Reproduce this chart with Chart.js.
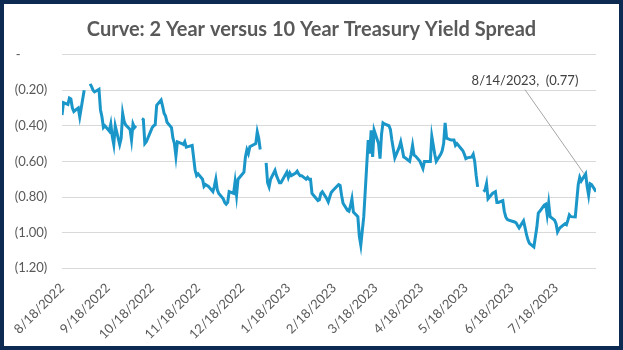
<!DOCTYPE html>
<html>
<head>
<meta charset="utf-8">
<script src="https://cdn.jsdelivr.net/npm/chart.js@4.4.1/dist/chart.umd.min.js"></script>
<style>
  html, body { margin: 0; padding: 0; background: #fff; }
  #frame { position: absolute; left: 0; top: 0; width: 623px; height: 350px; box-sizing: border-box; border: 4px solid #0d2b52; background: #fff; }
  #spread { display: block; }
</style>
</head>
<body>
<div id="frame"><canvas id="spread" width="615" height="342"></canvas></div>
<script>
// 2y/10y treasury spread, business days (null = blank row, shows as a gap)
const dates = [
  '8/18/2022','8/19/2022','8/22/2022','8/23/2022','8/24/2022','8/25/2022','8/26/2022','8/29/2022','8/30/2022','8/31/2022',
  '9/1/2022','9/2/2022','9/5/2022','9/6/2022','9/7/2022','9/8/2022','9/9/2022','9/12/2022','9/13/2022','9/14/2022','9/15/2022','9/16/2022',
  '9/19/2022','9/20/2022','9/21/2022','9/22/2022','9/23/2022','9/26/2022','9/27/2022','9/28/2022','9/29/2022','9/30/2022',
  '10/3/2022','10/4/2022','10/5/2022','10/6/2022','10/7/2022','10/10/2022','10/11/2022','10/12/2022','10/13/2022','10/14/2022',
  '10/17/2022','10/18/2022','10/19/2022','10/20/2022','10/21/2022','10/24/2022','10/25/2022','10/26/2022','10/27/2022','10/28/2022','10/31/2022',
  '11/1/2022','11/2/2022','11/3/2022','11/4/2022','11/7/2022','11/8/2022','11/9/2022','11/10/2022','11/14/2022','11/15/2022',
  '11/16/2022','11/17/2022','11/18/2022','11/21/2022','11/22/2022','11/23/2022','11/25/2022','11/28/2022','11/29/2022','11/30/2022',
  '12/1/2022','12/2/2022','12/5/2022','12/6/2022','12/7/2022','12/8/2022','12/9/2022','12/12/2022','12/13/2022','12/14/2022','12/15/2022',
  '12/16/2022','12/19/2022','12/20/2022','12/21/2022','12/22/2022','12/23/2022','12/27/2022','12/28/2022','12/29/2022','12/30/2022',
  '1/2/2023','1/3/2023','1/4/2023','1/5/2023','1/6/2023','1/9/2023','1/10/2023','1/11/2023','1/12/2023','1/13/2023',
  '1/17/2023','1/18/2023','1/19/2023','1/20/2023','1/23/2023','1/24/2023','1/25/2023','1/26/2023','1/27/2023','1/30/2023','1/31/2023',
  '2/1/2023','2/2/2023','2/3/2023','2/6/2023','2/7/2023','2/8/2023','2/9/2023','2/10/2023','2/13/2023','2/14/2023',
  '2/15/2023','2/16/2023','2/17/2023','2/21/2023','2/22/2023','2/23/2023','2/24/2023','2/27/2023','2/28/2023',
  '3/1/2023','3/2/2023','3/3/2023','3/6/2023','3/7/2023','3/8/2023','3/9/2023','3/10/2023','3/13/2023','3/14/2023','3/15/2023','3/16/2023',
  '3/17/2023','3/20/2023','3/21/2023','3/22/2023','3/23/2023','3/24/2023','3/27/2023','3/28/2023','3/29/2023','3/30/2023','3/31/2023',
  '4/3/2023','4/4/2023','4/5/2023','4/6/2023','4/7/2023','4/10/2023','4/11/2023','4/12/2023','4/13/2023','4/14/2023',
  '4/17/2023','4/18/2023','4/19/2023','4/20/2023','4/21/2023','4/24/2023','4/25/2023','4/26/2023','4/27/2023','4/28/2023',
  '5/1/2023','5/2/2023','5/3/2023','5/4/2023','5/5/2023','5/8/2023','5/9/2023','5/10/2023','5/11/2023','5/12/2023','5/15/2023','5/16/2023',
  '5/17/2023','5/18/2023','5/19/2023','5/22/2023','5/23/2023','5/24/2023','5/25/2023','5/26/2023','5/29/2023','5/30/2023','5/31/2023',
  '6/1/2023','6/2/2023','6/5/2023','6/6/2023','6/7/2023','6/8/2023','6/9/2023','6/12/2023','6/13/2023','6/14/2023','6/15/2023',
  '6/16/2023','6/20/2023','6/21/2023','6/22/2023','6/23/2023','6/26/2023','6/27/2023','6/28/2023','6/29/2023','6/30/2023',
  '7/3/2023','7/5/2023','7/6/2023','7/7/2023','7/10/2023','7/11/2023','7/12/2023','7/13/2023','7/14/2023','7/17/2023',
  '7/18/2023','7/19/2023','7/20/2023','7/21/2023','7/24/2023','7/25/2023','7/26/2023','7/27/2023','7/28/2023','7/31/2023',
  '8/1/2023','8/2/2023','8/3/2023','8/4/2023','8/7/2023','8/8/2023','8/9/2023','8/10/2023','8/11/2023','8/14/2023'
];
const spread = [
  -0.34,-0.27,-0.28,-0.245,-0.25,-0.30,-0.32,-0.30,-0.35,-0.30,
  -0.25,-0.20,null,-0.165,-0.18,-0.20,-0.21,-0.195,-0.31,-0.35,-0.41,-0.40,
  -0.43,-0.39,-0.46,-0.505,-0.40,-0.505,-0.47,-0.33,-0.375,-0.395,
  -0.42,-0.48,-0.39,-0.41,-0.40,null,-0.36,-0.365,-0.50,-0.49,
  -0.43,-0.41,-0.40,-0.395,-0.285,-0.255,-0.29,-0.33,-0.345,-0.38,-0.41,
  -0.47,-0.50,-0.57,-0.49,-0.50,-0.505,-0.49,-0.52,-0.51,-0.58,
  -0.65,-0.68,-0.67,-0.70,-0.74,-0.73,-0.74,-0.77,-0.74,-0.70,
  -0.76,-0.78,-0.81,-0.83,-0.84,-0.83,-0.77,-0.78,-0.715,-0.79,-0.70,
  -0.69,-0.66,-0.575,-0.535,-0.556,-0.518,-0.50,-0.434,-0.47,-0.533,
  null,-0.608,-0.72,-0.743,-0.70,-0.65,-0.68,-0.70,-0.72,-0.72,
  -0.66,-0.69,-0.665,-0.68,-0.665,-0.655,-0.67,-0.68,-0.68,-0.70,-0.69,
  -0.70,-0.70,-0.78,-0.81,-0.82,-0.815,-0.78,-0.77,-0.81,-0.827,
  -0.80,-0.775,-0.765,-0.73,-0.735,-0.79,-0.835,-0.875,-0.88,
  -0.85,-0.81,-0.885,-0.91,-1.02,-1.07,-0.99,-0.91,-0.48,-0.556,-0.425,-0.575,
  -0.425,-0.50,-0.584,-0.45,-0.384,-0.39,-0.40,-0.42,-0.48,-0.53,-0.58,
  -0.52,-0.49,-0.53,-0.575,-0.58,-0.60,-0.56,-0.51,-0.565,-0.57,
  -0.60,-0.62,-0.64,-0.60,-0.60,-0.60,-0.46,-0.51,-0.56,-0.60,
  -0.56,-0.54,-0.50,-0.384,-0.47,-0.48,-0.48,-0.48,-0.51,-0.50,-0.53,-0.54,
  -0.56,-0.584,-0.58,-0.575,-0.56,-0.60,-0.68,-0.743,null,-0.77,-0.76,
  -0.725,-0.81,-0.78,-0.775,-0.77,-0.83,-0.83,-0.82,-0.88,-0.912,-0.925,
  -0.93,-0.94,-0.945,-0.96,-0.973,-0.934,-0.97,-1.01,-1.04,-1.06,
  -1.08,-0.97,-0.89,-0.88,-0.845,-0.84,-0.90,-0.835,-0.91,-0.93,
  -0.95,-0.996,-0.98,-0.97,-0.95,-0.955,-0.93,-0.90,-0.91,-0.912,
  -0.82,-0.73,-0.69,-0.71,-0.67,-0.74,-0.79,-0.725,-0.73,-0.77
];
const tickDates = ['8/18/2022','9/18/2022','10/18/2022','11/18/2022','12/18/2022','1/18/2023',
  '2/18/2023','3/18/2023','4/18/2023','5/18/2023','6/18/2023','7/18/2023'];
const yTicks = [0, -0.2, -0.4, -0.6, -0.8, -1.0, -1.2];
const titleText = 'Curve: 2 Year versus 10 Year Treasury Yield Spread';

const gray = '#595959';
const lineColor = '#1a96c9';

function dayOf(s) {
  const [m, d, y] = s.split('/').map(Number);
  return Math.round((Date.UTC(y, m - 1, d) - Date.UTC(2022, 7, 18)) / 86400000);
}
function fmt(v) {
  if (Math.abs(v) < 1e-9) return '-';
  const s = Math.abs(v).toFixed(2);
  return v < 0 ? '(' + s + ')' : s;
}

const points = dates.map((d, i) => ({ x: dayOf(d), y: spread[i] }));
const tickDays = tickDates.map(dayOf);
const lastIdx = dates.length - 1;

// Excel style data label with leader line on the last point
const lastLabel = {
  id: 'lastLabel',
  afterDatasetsDraw(chart) {
    const { ctx, scales } = chart;
    const px = scales.x.getPixelForValue(dayOf(dates[lastIdx]));
    const py = scales.y.getPixelForValue(spread[lastIdx]);
    ctx.save();
    ctx.strokeStyle = '#a6a6a6';
    ctx.lineWidth = 1;
    ctx.beginPath();
    ctx.moveTo(px - 71, py - 102);
    ctx.lineTo(px - 12, py - 18);
    ctx.stroke();
    ctx.fillStyle = '#404040';
    ctx.font = '13px Lato';
    ctx.textAlign = 'center';
    ctx.textBaseline = 'middle';
    ctx.fillText(dates[lastIdx] + ',  ' + fmt(spread[lastIdx]), px - 71, py - 111);
    ctx.restore();
  }
};

new Chart(document.getElementById('spread'), {
  type: 'line',
  data: {
    datasets: [{
      data: points,
      borderColor: lineColor,
      borderWidth: 3,
      pointRadius: 0,
      tension: 0,
      spanGaps: false
    }]
  },
  options: {
    responsive: false,
    animation: false,
    layout: { padding: 0 },
    plugins: {
      legend: { display: false },
      tooltip: { enabled: false },
      title: {
        display: true,
        text: titleText,
        color: gray,
        font: { family: 'Lato', size: 20, weight: 'bold' },
        padding: { top: 13.5, bottom: 13 }
      }
    },
    scales: {
      x: {
        type: 'linear',
        min: 0,
        max: dayOf(dates[lastIdx]),
        afterBuildTicks: axis => { axis.ticks = tickDays.map(v => ({ value: v })); },
        afterFit: axis => { axis.height = 77.7; },
        grid: { display: false, drawTicks: false },
        border: { display: false },
        ticks: {
          autoSkip: false,
          minRotation: 45,
          maxRotation: 45,
          padding: 12,
          color: gray,
          font: { family: 'Lato', size: 13 },
          callback: v => tickDates[tickDays.indexOf(v)] || ''
        }
      },
      y: {
        min: -1.2,
        max: 0,
        afterBuildTicks: axis => { axis.ticks = yTicks.map(v => ({ value: v })); },
        afterFit: axis => { axis.width = 58; },
        grid: { color: '#d9d9d9', lineWidth: 1, drawTicks: false },
        border: { display: false },
        ticks: {
          padding: 14.7,
          color: gray,
          font: { family: 'Lato', size: 13 },
          // Excel accounting format puts the zero dash further left
          callback: v => (Math.abs(v) < 1e-9 ? fmt(v) + '        ' : fmt(v))
        }
      },
      // empty right margin so the title stays centred on the whole canvas
      yRight: {
        position: 'right',
        display: true,
        afterFit: axis => { axis.width = 23; },
        grid: { display: false, drawTicks: false },
        border: { display: false },
        ticks: { display: false }
      }
    }
  },
  plugins: [lastLabel]
});
</script>
</body>
</html>
